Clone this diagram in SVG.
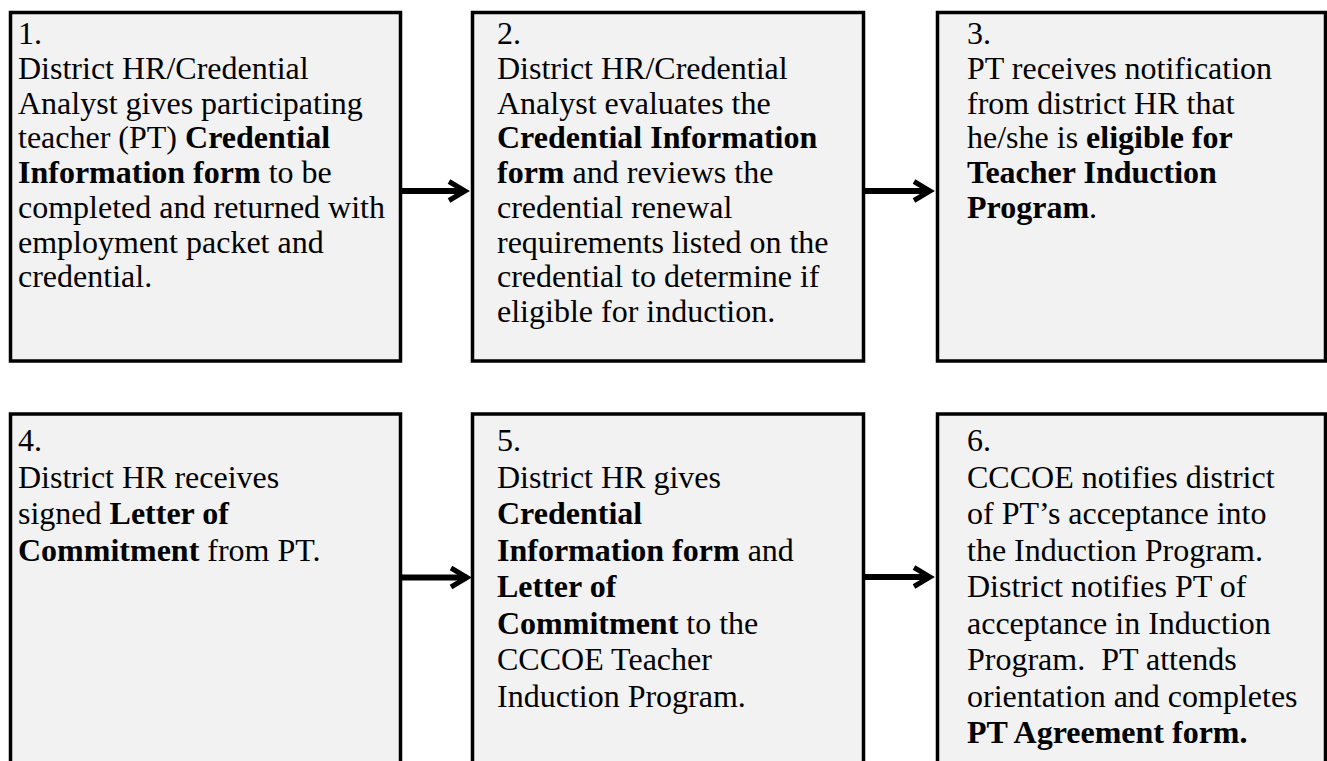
<svg xmlns="http://www.w3.org/2000/svg" width="1327" height="761" viewBox="0 0 1327 761">
<style>
.box{fill:#f2f2f2;stroke:#000;stroke-width:3.5}
.t{font-family:"Liberation Serif","Times New Roman",serif;font-size:32px;fill:#000}
.b{font-weight:bold}
.conn{stroke:#000;stroke-width:6;fill:none}
</style>
<defs>
<marker id="chev" markerUnits="userSpaceOnUse" viewBox="-22 -14 30 28" markerWidth="30" markerHeight="28" refX="0" refY="0" orient="auto" overflow="visible">
<path d="M-16,-9.5 L0,0 L-16,9.5" fill="none" stroke="#000" stroke-width="5"/>
</marker>
</defs>
<rect width="1327" height="761" fill="#fff"/>
<g id="node1">
<rect class="box" x="10.5" y="12.5" width="390" height="348.5"/>
<text class="t" x="18" y="44">1.</text>
<text class="t" x="18" y="78.75">District HR/Credential</text>
<text class="t" x="18" y="113.5">Analyst gives participating</text>
<text class="t" x="18" y="148.25">teacher (PT) <tspan class="b">Credential</tspan></text>
<text class="t" x="18" y="183"><tspan class="b">Information form</tspan> to be</text>
<text class="t" x="18" y="217.75">completed and returned with</text>
<text class="t" x="18" y="252.5">employment packet and</text>
<text class="t" x="18" y="287.25">credential.</text>
</g>
<g id="node2">
<rect class="box" x="472.5" y="12.5" width="391" height="348.5"/>
<text class="t" x="497" y="44">2.</text>
<text class="t" x="497" y="78.75">District HR/Credential</text>
<text class="t" x="497" y="113.5">Analyst evaluates the</text>
<text class="t b" x="497" y="148.25">Credential Information</text>
<text class="t" x="497" y="183"><tspan class="b">form</tspan> and reviews the</text>
<text class="t" x="497" y="217.75">credential renewal</text>
<text class="t" x="497" y="252.5">requirements listed on the</text>
<text class="t" x="497" y="287.25">credential to determine if</text>
<text class="t" x="497" y="322">eligible for induction.</text>
</g>
<g id="node3">
<rect class="box" x="937.5" y="12.5" width="388" height="348.5"/>
<text class="t" x="967" y="44">3.</text>
<text class="t" x="967" y="78.75">PT receives notification</text>
<text class="t" x="967" y="113.5">from district HR that</text>
<text class="t" x="967" y="148.25">he/she is <tspan class="b">eligible for</tspan></text>
<text class="t b" x="967" y="183">Teacher Induction</text>
<text class="t" x="967" y="217.75"><tspan class="b">Program</tspan>.</text>
</g>
<g id="node4">
<rect class="box" x="10.5" y="414" width="390" height="400"/>
<text class="t" x="18" y="451">4.</text>
<text class="t" x="18" y="487.5">District HR receives</text>
<text class="t" x="18" y="524">signed <tspan class="b">Letter of</tspan></text>
<text class="t" x="18" y="560.5"><tspan class="b">Commitment</tspan> from PT.</text>
</g>
<g id="node5">
<rect class="box" x="472.5" y="414" width="391" height="400"/>
<text class="t" x="497" y="451">5.</text>
<text class="t" x="497" y="487.5">District HR gives</text>
<text class="t b" x="497" y="524">Credential</text>
<text class="t" x="497" y="560.5"><tspan class="b">Information form</tspan> and</text>
<text class="t b" x="497" y="597">Letter of</text>
<text class="t" x="497" y="633.5"><tspan class="b">Commitment</tspan> to the</text>
<text class="t" x="497" y="670">CCCOE Teacher</text>
<text class="t" x="497" y="706.5">Induction Program.</text>
</g>
<g id="node6">
<rect class="box" x="937.5" y="414" width="388" height="400"/>
<text class="t" x="967" y="451">6.</text>
<text class="t" x="967" y="487.5">CCCOE notifies district</text>
<text class="t" x="967" y="524">of PT’s acceptance into</text>
<text class="t" x="967" y="560.5">the Induction Program.</text>
<text class="t" x="967" y="597">District notifies PT of</text>
<text class="t" x="967" y="633.5">acceptance in Induction</text>
<text class="t" x="967" y="670" xml:space="preserve">Program.  PT attends</text>
<text class="t" x="967" y="706.5">orientation and completes</text>
<text class="t b" x="967" y="743">PT Agreement form.</text>
</g>
<g id="connectors">
<line class="conn" x1="402" y1="191" x2="465" y2="191" marker-end="url(#chev)"/>
<line class="conn" x1="865" y1="191" x2="930" y2="191" marker-end="url(#chev)"/>
<line class="conn" x1="402" y1="577.5" x2="467" y2="577.5" marker-end="url(#chev)"/>
<line class="conn" x1="865" y1="577" x2="930" y2="577" marker-end="url(#chev)"/>
</g>
</svg>
